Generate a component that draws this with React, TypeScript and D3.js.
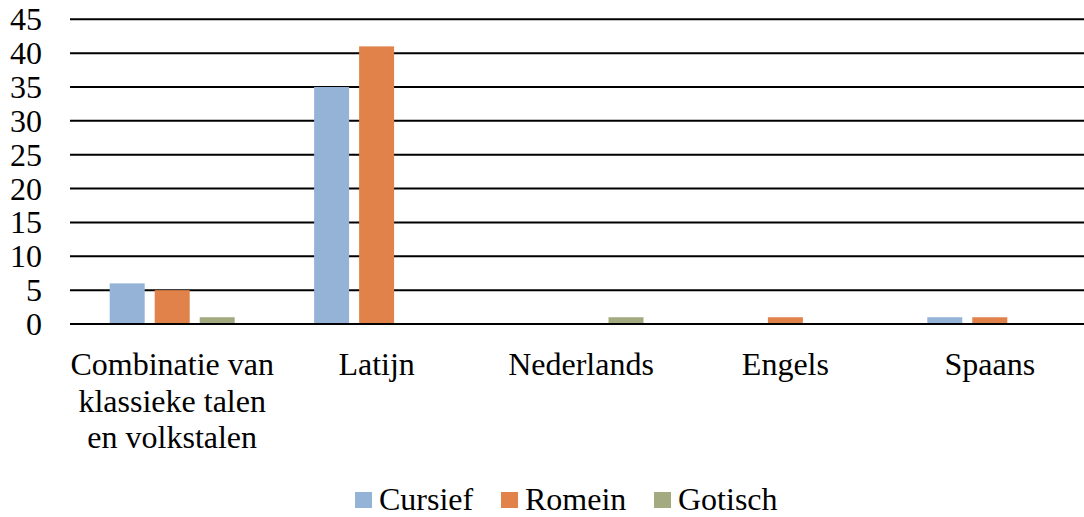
import React from "react";
import * as d3 from "d3";

// Category labels (each entry is a list of wrapped lines)
const categories = [
  "Combinatie van klassieke talen en volkstalen",
  "Latijn",
  "Nederlands",
  "Engels",
  "Spaans",
];
const categoryLines = [
  ["Combinatie van", "klassieke talen", "en volkstalen"],
  ["Latijn"],
  ["Nederlands"],
  ["Engels"],
  ["Spaans"],
];

const seriesNames = ["Cursief", "Romein", "Gotisch"];
const cursief = [6, 35, 0, 0, 1];
const romein = [5, 41, 0, 1, 1];
const gotisch = [1, 0, 1, 0, 0];
const seriesValues = [cursief, romein, gotisch];
const seriesColors = ["#95B3D7", "#E0824A", "#A4AA80"];

const yTicks = [0, 5, 10, 15, 20, 25, 30, 35, 40, 45];

const W = 1084;
const H = 517;
const textStyle: React.CSSProperties = {
  fontFamily:
    '"Liberation Serif", "Times New Roman", Times, Tinos, "Nimbus Roman", "Noto Serif", "DejaVu Serif", FreeSerif, serif',
  fontSize: "32px",
};

export default function App() {
  const x0 = d3.scaleBand<string>().domain(categories).range([70, 1092]).padding(0);
  const y = d3.scaleLinear().domain([0, 45]).range([324, 19.3]);
  const groupWidth = 125;

  return (
    <svg
      width={W}
      height={H}
      style={{ position: "absolute", left: 0, top: 0, background: "#fff" }}
    >
      {/* gridlines */}
      {yTicks.map((t) => (
        <line
          key={"g" + t}
          x1={70}
          x2={W}
          y1={y(t)}
          y2={y(t)}
          stroke="#000"
          strokeWidth={2}
        />
      ))}
      {/* y tick labels */}
      {yTicks.map((t) => (
        <text
          key={"yl" + t}
          x={42}
          y={y(t) + 11}
          textAnchor="end"
          style={textStyle}
          fill="#000"
        >
          {t}
        </text>
      ))}
      {/* bars */}
      {categories.map((c, ci) => {
        const cx = (x0(c) as number) + x0.bandwidth() / 2;
        const x1 = d3
          .scaleBand<string>()
          .domain(seriesNames)
          .range([cx - groupWidth / 2, cx + groupWidth / 2])
          .paddingInner(10 / 45)
          .paddingOuter(0);
        return seriesNames.map((s, si) => {
          const v = seriesValues[si][ci];
          if (!v) return null;
          return (
            <rect
              key={c + s}
              x={x1(s) as number}
              y={y(v)}
              width={x1.bandwidth()}
              height={y(0) - y(v) - 1}
              fill={seriesColors[si]}
            />
          );
        });
      })}
      {/* category labels */}
      {categories.map((c, ci) => {
        const cx = (x0(c) as number) + x0.bandwidth() / 2;
        return (
          <text key={"xl" + c} textAnchor="middle" style={textStyle} fill="#000">
            {categoryLines[ci].map((line, li) => (
              <tspan key={li} x={cx} y={375 + li * 36.5}>
                {line}
              </tspan>
            ))}
          </text>
        );
      })}
      {/* legend */}
      {seriesNames.map((s, si) => {
        const lx = [355, 501, 654][si];
        return (
          <g key={"lg" + s}>
            <rect x={lx} y={492} width={17} height={16} fill={seriesColors[si]} />
            <text x={lx + 24} y={510} style={textStyle} fill="#000">
              {s}
            </text>
          </g>
        );
      })}
    </svg>
  );
}
